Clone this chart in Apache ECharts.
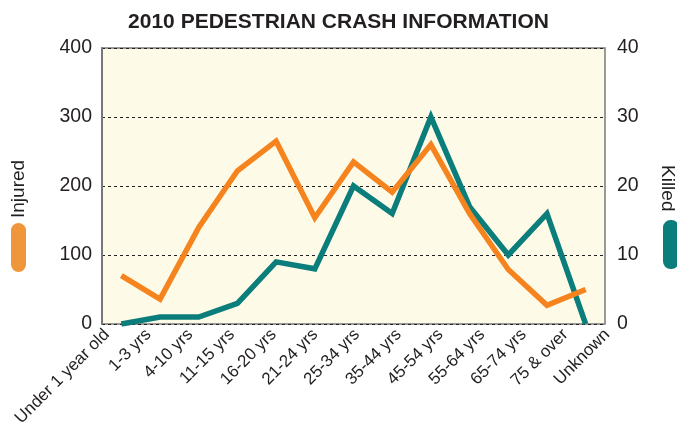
<!DOCTYPE html>
<html><head><meta charset="utf-8">
<script src="https://cdn.jsdelivr.net/npm/echarts@6/dist/echarts.min.js"></script>
<style>html,body{margin:0;padding:0;background:#fff}#c{width:677px;height:429px}</style>
</head><body><div id="c"></div>
<script>
var categories = ['Under 1 year old','1-3 yrs','4-10 yrs','11-15 yrs','16-20 yrs','21-24 yrs','25-34 yrs','35-44 yrs','45-54 yrs','55-64 yrs','65-74 yrs','75 & over','Unknown'];
var injured = [70, 36, 140, 222, 265, 154, 235, 191, 260, 160, 79, 27, 50];
var killed = [0, 1, 1, 3, 9, 8, 20, 16, 30, 17, 10, 16, 0];
var leftTicks = [0, 100, 200, 300, 400];
var rightTicks = [0, 10, 20, 30, 40];

var chart = echarts.init(document.getElementById('c'), null, {renderer:'canvas'});
var font = 'Liberation Sans, Arial, sans-serif';
chart.setOption({
  animation: false,
  title: {text: '2010 PEDESTRIAN CRASH INFORMATION', left: 'center', top: 7,
    textStyle: {fontFamily: font, fontSize: 21, fontWeight: 'bold', color: '#231f20'}},
  grid: [
    {left: 102, right: 72, top: 48, bottom: 105, show: true,
      backgroundColor: '#fdfbe7', borderColor: '#7a7a7a', borderWidth: 1.5},
    {left: 86, right: 49, top: 48, bottom: 105, show: false}
  ],
  xAxis: [
    {type: 'category', data: categories, boundaryGap: true, gridIndex: 0,
      axisLine: {show: false}, axisTick: {show: false}, axisLabel: {show: false}},
    {type: 'category', data: categories, boundaryGap: true, gridIndex: 1,
      axisLine: {show: false}, axisTick: {show: false},
      axisLabel: {rotate: 45, interval: 0, fontFamily: font, fontSize: 17, color: '#231f20', margin: 21}}
  ],
  yAxis: [
    {type: 'value', gridIndex: 0, min: leftTicks[0], max: leftTicks[leftTicks.length-1], interval: 100,
      axisLine: {show: true, lineStyle: {color: '#777', width: 2}}, axisTick: {show: false},
      axisLabel: {fontFamily: font, fontSize: 19.5, color: '#231f20', margin: 10},
      splitLine: {show: true, lineStyle: {color: '#222', type: [3, 3], width: 1}}},
    {type: 'value', gridIndex: 0, min: rightTicks[0], max: rightTicks[rightTicks.length-1], interval: 10,
      axisLine: {show: false}, axisTick: {show: false},
      axisLabel: {fontFamily: font, fontSize: 19.5, color: '#231f20', margin: 12},
      splitLine: {show: false}},
    {type: 'value', gridIndex: 1, min: 0, max: 1, show: false}
  ],
  series: [
    {name: 'Killed', type: 'line', xAxisIndex: 0, yAxisIndex: 1, data: killed, symbol: 'none',
      lineStyle: {color: '#0b7d7a', width: 5.5, join: 'miter'}, itemStyle: {color: '#0b7d7a'}, z: 2},
    {name: 'Injured', type: 'line', xAxisIndex: 0, yAxisIndex: 0, data: injured, symbol: 'none',
      lineStyle: {color: '#f5841f', width: 5.5, join: 'miter'}, itemStyle: {color: '#f5841f'}, z: 3}
  ],
  graphic: [
    {type: 'text', x: 9, y: 218, rotation: Math.PI/2,
      style: {text: 'Injured', font: '19px ' + font, fill: '#231f20', textVerticalAlign: 'top'}},
    {type: 'rect', shape: {x: 11, y: 223, width: 15, height: 49, r: 7.5}, style: {fill: '#f0963a'}},
    {type: 'text', x: 677, y: 165, rotation: -Math.PI/2,
      style: {text: 'Killed', font: '19px ' + font, fill: '#231f20', textVerticalAlign: 'top'}},
    {type: 'rect', shape: {x: 663, y: 220, width: 16, height: 49, r: 7.5}, style: {fill: '#0b7d7a'}}
  ]
});
</script></body></html>
